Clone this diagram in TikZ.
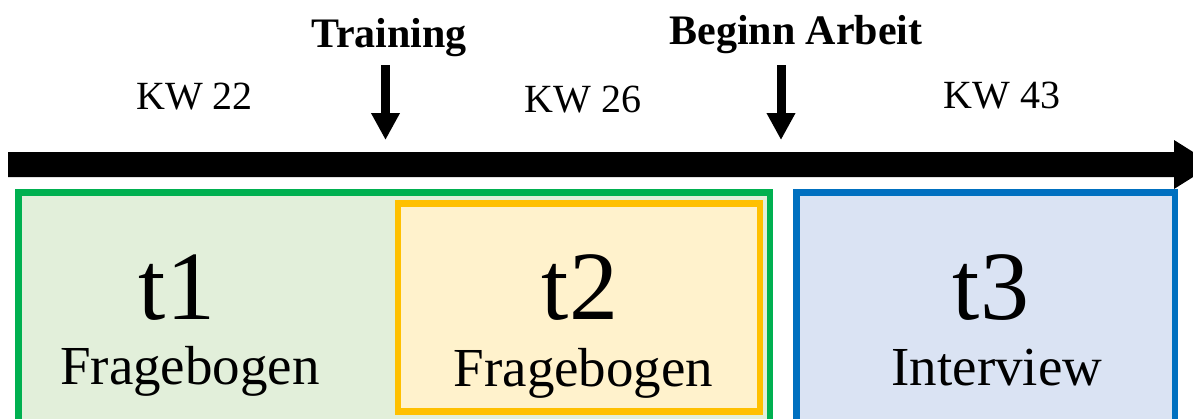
\documentclass[tikz,border=0pt]{standalone}
\usepackage{fontspec}
\setmainfont{Liberation Serif}
\usetikzlibrary{arrows.meta}
\definecolor{boxgreen}{HTML}{00B050}
\definecolor{fillgreen}{HTML}{E2EFDA}
\definecolor{boxyellow}{HTML}{FFC000}
\definecolor{fillyellow}{HTML}{FFF2CC}
\definecolor{boxblue}{HTML}{0070C0}
\definecolor{fillblue}{HTML}{DAE3F3}
\tikzset{
  phase/.style={line width=6.5pt},
  toplabel/.style={anchor=base, inner sep=0pt, font=\fontsize{42}{42}\selectfont\bfseries},
  weeklabel/.style={anchor=base, inner sep=0pt, font=\fontsize{40}{40}\selectfont},
  timelabel/.style={anchor=base, inner sep=0pt, font=\fontsize{98}{98}\selectfont},
  kindlabel/.style={anchor=base, inner sep=0pt, font=\fontsize{55}{55}\selectfont},
  marker/.style={line width=9pt, -{Triangle[length=27pt,width=27pt]}},
}
\begin{document}
\begin{tikzpicture}[x=1pt,y=-1pt]
\useasboundingbox (0,0) rectangle (1193,418);
\clip (0,0) rectangle (1193,418);

% phase boxes
\draw[phase, draw=boxgreen, fill=fillgreen] (18.5,192.5) rectangle (770,440);
\draw[phase, draw=boxyellow, fill=fillyellow] (398,203.5) rectangle (760,411.5);
\draw[phase, draw=boxblue, fill=fillblue] (796.5,192.5) rectangle (1175,440);

% timeline arrow
\fill[black] (8,152) -- (1174,152) -- (1174,140) -- (1213,164.5)
  -- (1174,189) -- (1174,177) -- (8,177) -- cycle;

% event labels and markers
\node[toplabel] (training) at (389,47) {Training};
\node[toplabel] (beginn) at (796,44) {Beginn Arbeit};
\coordinate (trainStart) at (385.5,65);
\coordinate (trainTip) at (385.5,140);
\coordinate (beginnStart) at (781,65);
\coordinate (beginnTip) at (781,140);
\draw[marker] (trainStart) -- (trainTip);
\draw[marker] (beginnStart) -- (beginnTip);

% calendar weeks
\node[weeklabel] (kw22) at (194.5,109) {KW 22};
\node[weeklabel] (kw26) at (583,112) {KW 26};
\node[weeklabel] (kw43) at (1002,108) {KW 43};

% measurement points
\node[timelabel] (t1) at (177,319) {t1};
\node[kindlabel] (f1) at (190,384) {Fragebogen};
\node[timelabel] (t2) at (580,319) {t2};
\node[kindlabel] (f2) at (583.5,386) {Fragebogen};
\node[timelabel] (t3) at (991,319) {t3};
\node[kindlabel] (i3) at (997,385) {Interview};
\end{tikzpicture}
\end{document}
